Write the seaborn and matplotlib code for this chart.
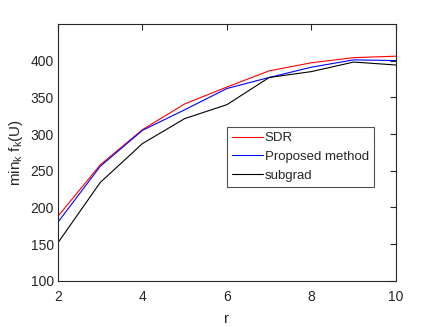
import numpy as np
import pandas as pd
import matplotlib
matplotlib.use('Agg')
import matplotlib.pyplot as plt
import seaborn as sns

r = [2, 3, 4, 5, 6, 7, 8, 9, 10]
sdr = [188, 258, 306, 341, 364, 386, 397, 404, 406]
proposed = [180, 256, 305, 333, 362, 377, 391, 401, 400]
subgrad = [152, 234, 287, 321, 340, 377, 385, 398, 394]

df = pd.DataFrame({
    'r': r * 3,
    'value': sdr + proposed + subgrad,
    'method': ['SDR'] * len(r) + ['Proposed method'] * len(r) + ['subgrad'] * len(r),
})

sns.set_style('white')
plt.rcParams['font.family'] = ['Liberation Sans', 'DejaVu Sans']
plt.rcParams['mathtext.fontset'] = 'custom'
plt.rcParams['mathtext.rm'] = 'Liberation Sans'
plt.rcParams['mathtext.it'] = 'Liberation Sans'

fig = plt.figure(figsize=(4.36, 3.27), dpi=100)
ax = fig.add_axes([0.133, 0.141, 0.775, 0.786])

sns.lineplot(data=df, x='r', y='value', hue='method',
             palette={'SDR': '#ff0000', 'Proposed method': '#0000ff', 'subgrad': '#000000'},
             linewidth=0.8, ax=ax, legend=True)

ax.set_xlim(2, 10)
ax.set_ylim(100, 450)
ax.set_xticks([2, 4, 6, 8, 10])
ax.set_yticks([100, 150, 200, 250, 300, 350, 400])
ax.tick_params(direction='in', top=True, right=True, length=4, width=0.8,
               labelsize=10, colors='#262626', pad=3)
ax.tick_params(axis='x', pad=6.5)
for s in ax.spines.values():
    s.set_color('#262626')
    s.set_linewidth(0.8)
ax.set_xlabel('r', fontsize=11, color='#262626', labelpad=6)
ax.set_ylabel(r'min$_\mathrm{k}$ f$_\mathrm{k}$(U)', fontsize=11, color='#262626', labelpad=4)

leg = ax.legend(loc='lower left', bbox_to_anchor=(0.5, 0.365), fontsize=9.5,
                frameon=True, fancybox=False, handlelength=2.3, handletextpad=0.15,
                borderpad=0.4, labelspacing=0.5, borderaxespad=0)
leg.get_frame().set_edgecolor('#262626')
leg.get_frame().set_linewidth(0.8)

fig.savefig('out.png', dpi=100)
